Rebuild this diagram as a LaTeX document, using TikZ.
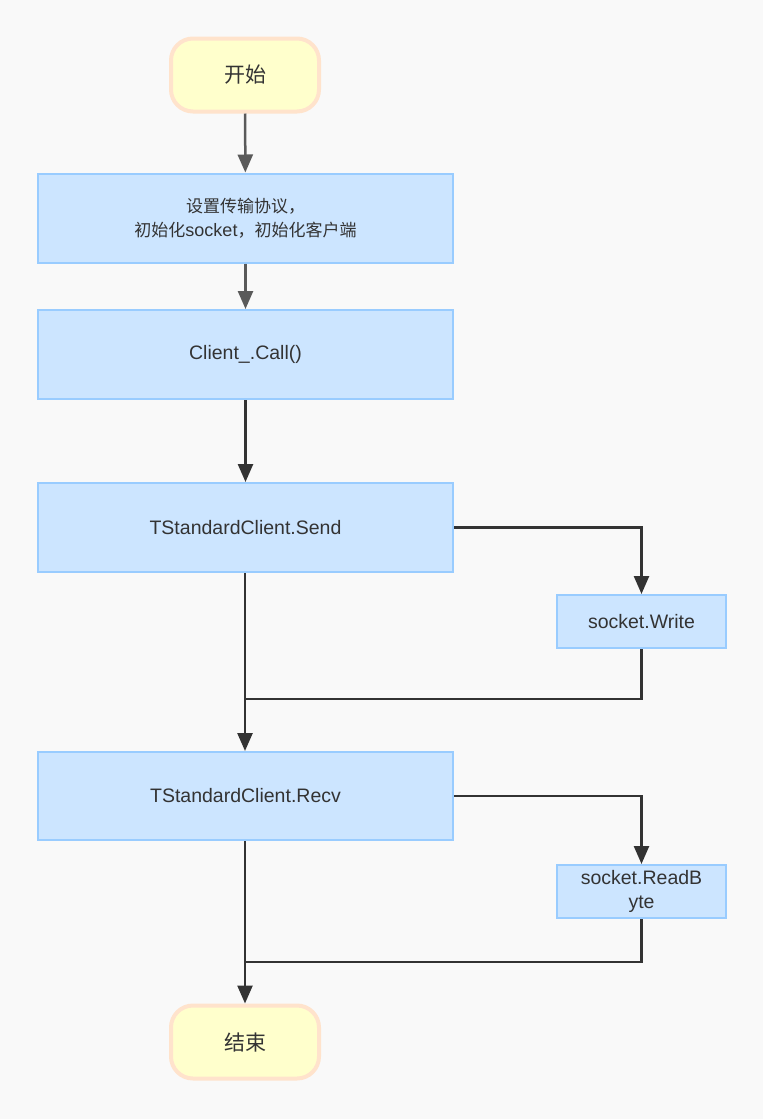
\documentclass[tikz,border=0pt]{standalone}
\usepackage{fontspec}
\setmainfont{Liberation Sans}
\newfontfamily\cjk{Noto Sans CJK SC}
\usepackage{tikz}
\usetikzlibrary{arrows.meta}

\definecolor{bgcol}{HTML}{F9F9F9}
\definecolor{boxfill}{HTML}{CCE5FF}
\definecolor{boxline}{HTML}{99CCFF}
\definecolor{termfill}{HTML}{FFFFCC}
\definecolor{termline}{HTML}{FFE3CC}
\definecolor{txtcol}{HTML}{333333}
\definecolor{grayline}{HTML}{5A5A5A}

\begin{document}
\begin{tikzpicture}[x=1pt,y=-1pt,
	stepbox/.style={draw=boxline,fill=boxfill,line width=2pt,text=txtcol,align=center,inner sep=0pt,font=\fontsize{19.5}{24.5}\selectfont},
	termbox/.style={draw=termline,fill=termfill,line width=4pt,rounded corners=22pt,text=txtcol,minimum width=148pt,minimum height=73pt,font=\fontsize{21}{24}\selectfont\cjk},
	flow/.style={line width=2.5pt,draw=txtcol,-{Triangle[length=18pt,width=15pt]}},
	link/.style={line width=2.5pt,draw=txtcol}]

	% canvas, all coordinates are in pixels of the reference (y down)
	\fill[bgcol] (0,0) rectangle (763,1119);
	\useasboundingbox (0,0) rectangle (763,1119);

	% main column
	\node[termbox] (start) at (245,75) {开始};
	\node[stepbox,minimum width=415pt,minimum height=89pt] (init) at (245.5,218) {{\cjk\fontsize{17}{24.5}\selectfont 设置传输协议，}\\{\cjk\fontsize{17}{24.5}\selectfont 初始化}{\fontsize{18}{24.5}\selectfont socket}{\cjk\fontsize{17}{24.5}\selectfont ，初始化客户端}};
	\node[stepbox,minimum width=415pt,minimum height=89pt] (call) at (245.5,354.5) {Client\_.Call()};
	\node[stepbox,minimum width=415pt,minimum height=89pt] (send) at (245.5,527.5) {TStandardClient.Send};
	\node[stepbox,minimum width=415pt,minimum height=88pt] (recv) at (245.5,796) {TStandardClient.Recv};
	\node[termbox] (stop) at (245,1042) {结束};

	% side column
	\node[stepbox,minimum width=169pt,minimum height=53pt] (write) at (641.5,621.5) {socket.Write};
	\node[stepbox,minimum width=169pt,minimum height=53pt] (read) at (641.5,891.5) {socket.ReadB\\yte};

	% joins below the side boxes
	\coordinate (wjoin) at (245,699);
	\coordinate (rjoin) at (245,962);

	% connectors
	\draw[flow,draw=grayline,fill=grayline] (start) -- (init);
	\draw[flow,draw=grayline,fill=grayline] (init) -- (call);
	\draw[flow] (call) -- (send);
	\draw[flow] (send.east) -| (write.north);
	\draw[link] (write.south) |- (wjoin);
	\draw[flow] (send.south -| wjoin) -- (recv.north -| wjoin);
	\draw[flow] (recv.east) -| (read.north);
	\draw[link] (read.south) |- (rjoin);
	\draw[flow] (recv.south -| rjoin) -- (stop);

\end{tikzpicture}
\end{document}
